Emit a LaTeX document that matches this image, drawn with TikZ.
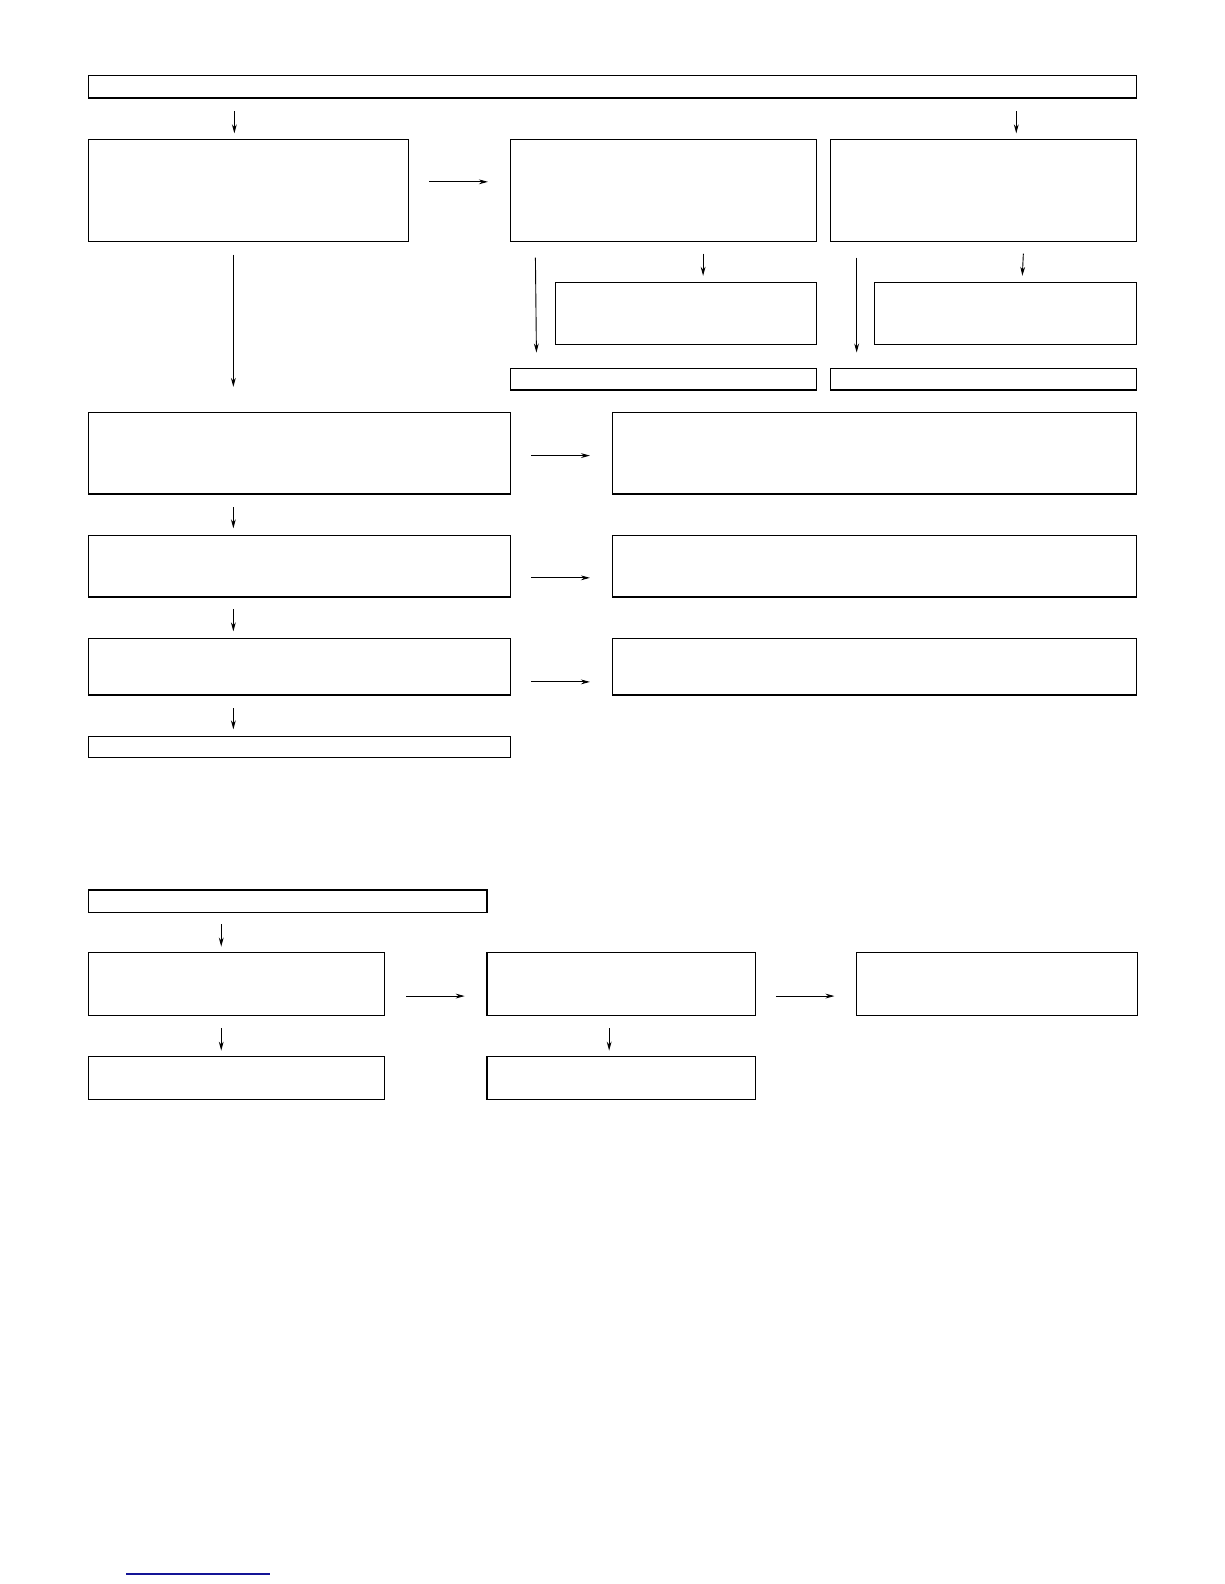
\documentclass[tikz,border=0pt]{standalone}
\usetikzlibrary{fit,arrows.meta}
\tikzset{
  box/.style={draw, line width=0.6pt, inner sep=0pt},
  flow/.style={->, line width=0.45pt}
}
\begin{document}
\begin{tikzpicture}[x=0.50495pt, y=-0.50495pt, >={Stealth[length=4.5pt,width=2.4pt]}, line join=miter]
\useasboundingbox (0,0) rectangle (1212,1568);
% boxes: name/left/top/right/bottom
\foreach \n/\a/\b/\c/\d in {top/88/75/1125/97, sa/88/138/404/239, sb/505/138/808/239, sc/822/138/1125/239,
  sbt/550/280/808/341, sct/866/280/1125/341, sbe/505/365/808/386, sce/822/365/1125/386,
  da/88/408/505/489, db/606/408/1125/489, ea/88/530/505/591, eb/606/530/1125/591,
  fa/88/632/505/688, fb/606/632/1125/688, ga/88/729/505/750,
  hh/88/881/482/903, ia/88/943/381/1005, ib/482/943/748/1005, ic/848/943/1126/1005,
  ja/88/1046/381/1088, jb/482/1046/748/1088}
  \node[box, fit={(\a,\b) (\c,\d)}] (\n) {};
% arrows: name/x1/y1/x2/y2
\foreach \n/\a/\b/\c/\d in {a1/232/110/232/132, a2/1006/110/1006/132, a3/425/180/483/180,
  a4/231/252/231/383, a5/530/255/531/349, a6/696/251/696/273, a7/848/255/848/349, a8/1013/251/1012/273,
  a9/526/451/584/451, a10/231/502/231/523, a11/526/572/584/572, a12/231/603/231/625,
  a13/526/675/584/675, a14/231/701/231/722,
  b1/219/915/219/937, b2/402/986/460/986, b3/768/986/826/986, b4/219/1018/219/1040, b5/603/1018/603/1040}
{\coordinate (\n s) at (\a,\b); \coordinate (\n e) at (\c,\d);
 \draw[flow] (\n s) -- (\n e);}
% link underline
\coordinate (ls) at (125,1558); \coordinate (le) at (267,1558);
\draw[color={rgb,255:red,20;green,20;blue,150}, line width=0.6pt] (ls) -- (le);
\end{tikzpicture}
\end{document}
